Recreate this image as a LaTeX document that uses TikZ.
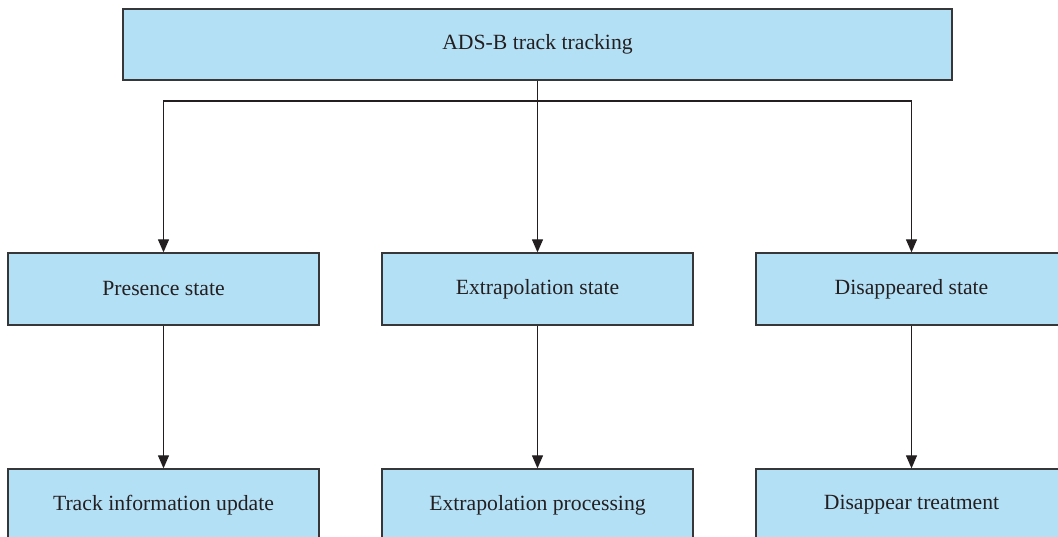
\documentclass[tikz,border=0pt]{standalone}
\usepackage{fontspec}
\setmainfont{Liberation Serif}
\usetikzlibrary{arrows.meta}
\definecolor{boxfill}{RGB}{180,224,246}
\definecolor{boxline}{RGB}{55,55,58}
\definecolor{inktext}{RGB}{35,31,32}
\tikzset{
  stagebox/.style={draw=boxline, fill=boxfill, line width=1.3pt, inner sep=0pt,
    minimum width=311pt, minimum height=72pt, text=inktext,
    font=\fontsize{21.7pt}{24pt}\selectfont},
  link/.style={draw=inktext, line width=1.2pt},
  arrowlink/.style={link, -{Triangle[width=11pt,length=13pt]}}
}
\begin{document}
\begin{tikzpicture}[x=1pt,y=1pt]
\useasboundingbox (0,0) rectangle (1058,536);
\clip (0,0) rectangle (1058,536);
% root
\node[stagebox, minimum width=829pt, minimum height=71pt] (top) at (537.5,491.5) {ADS-B track tracking};
% states
\node[stagebox] (pres) at (163.5,247) {Presence state};
\node[stagebox] (extr) at (537.5,247) {Extrapolation state};
\node[stagebox] (disa) at (911.5,247) {Disappeared state};
% treatments
\node[stagebox] (upd) at (163.5,31) {Track information update};
\node[stagebox] (proc) at (537.5,31) {Extrapolation processing};
\node[stagebox] (trt) at (911.5,31) {Disappear treatment};
% branching
\coordinate (j) at (537.5,435);
\draw[link] (top.south) -- (j);
\draw[arrowlink] (j) -| (pres.north);
\draw[arrowlink] (j) -- (extr.north);
\draw[arrowlink] (j) -| (disa.north);
\draw[arrowlink] (pres.south) -- (upd.north);
\draw[arrowlink] (extr.south) -- (proc.north);
\draw[arrowlink] (disa.south) -- (trt.north);
\end{tikzpicture}
\end{document}
